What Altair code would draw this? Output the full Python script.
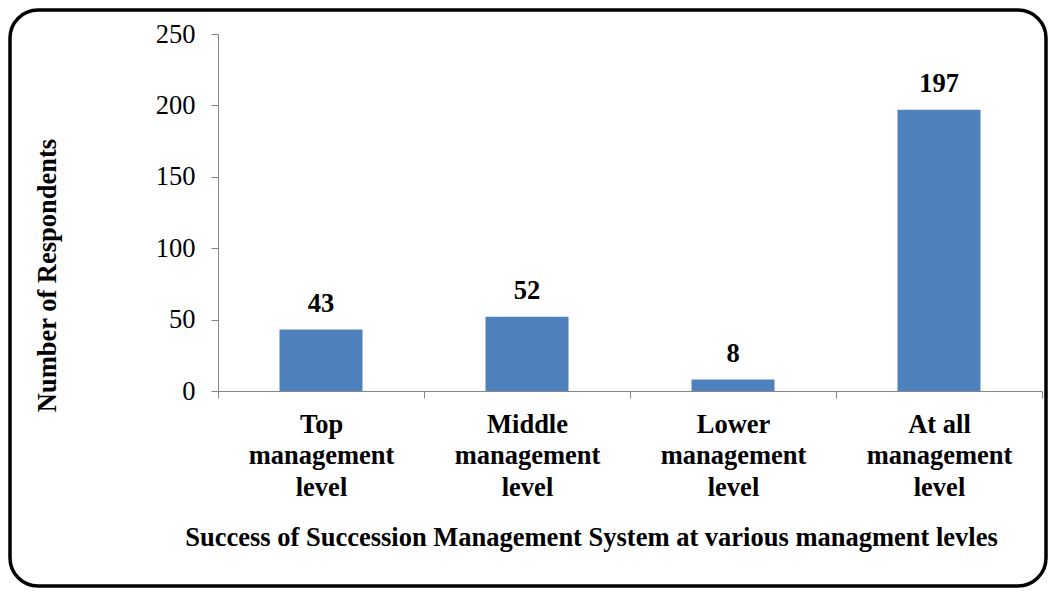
import altair as alt
import pandas as pd

categories = [
    "Top\nmanagement\nlevel",
    "Middle\nmanagement\nlevel",
    "Lower\nmanagement\nlevel",
    "At all\nmanagement\nlevel",
]
respondents = [43, 52, 8, 197]
y_ticks = [0, 50, 100, 150, 200, 250]

x_title = "Success of Succession Management System at various managment levles"
y_title = "Number of Respondents"

df = pd.DataFrame({"category": categories, "value": respondents})

FONT = "Liberation Serif"
GRAY = "#868686"
FS = 26.5

x_enc = alt.X(
    "category:N",
    sort=categories,
    scale=alt.Scale(paddingInner=0, paddingOuter=0),
    axis=alt.Axis(
        title=x_title,
        labelExpr="split(datum.label, '\\n')",
        labelAngle=0,
        labelFont=FONT,
        labelFontWeight="bold",
        labelFontSize=FS,
        labelColor="black",
        labelLineHeight=31.5,
        labelBaseline="alphabetic",
        labelPadding=34,
        tickBand="extent",
        tickSize=7,
        tickColor=GRAY,
        domainColor=GRAY,
        titleFont=FONT,
        titleFontWeight="bold",
        titleFontSize=FS,
        titleColor="black",
        titleX=373,
        titleY=154,
        titleAlign="center",
        titleBaseline="alphabetic",
    ),
)

y_enc = alt.Y(
    "value:Q",
    scale=alt.Scale(domain=[0, 250], nice=False),
    axis=alt.Axis(
        title=y_title,
        values=y_ticks,
        grid=False,
        labelFont=FONT,
        labelFontSize=FS,
        labelColor="black",
        labelPadding=16,
        tickSize=7,
        tickColor=GRAY,
        domainColor=GRAY,
        titleFont=FONT,
        titleFontWeight="bold",
        titleFontSize=FS,
        titleColor="black",
        titleAngle=270,
        titleX=-163,
        titleY=241,
        titleAlign="center",
        titleBaseline="alphabetic",
    ),
)

bars = alt.Chart(df).mark_bar(size=83, color="#4F81BD").encode(x=x_enc, y=y_enc)

labels = alt.Chart(df).mark_text(
    baseline="alphabetic",
    dy=-18,
    font=FONT,
    fontWeight="bold",
    fontSize=FS,
    color="black",
).encode(
    x=alt.X("category:N", sort=categories),
    y=alt.Y("value:Q"),
    text=alt.Text("value:Q"),
)

border = alt.Chart(alt.Data(values=[{"frame": 1}])).mark_rect(
    fill="transparent",
    stroke="black",
    strokeWidth=3.5,
    cornerRadius=28,
).encode(
    x=alt.value(-208),
    x2=alt.value(828),
    y=alt.value(-24),
    y2=alt.value(552),
)

chart = (
    alt.layer(bars, labels, border)
    .properties(
        width=824,
        height=357,
        padding={"left": 210, "top": 26, "right": 6, "bottom": 197},
        autosize="none",
        background="white",
    )
    .configure_view(stroke=None)
)

chart.save("out.html", embed_options={"renderer": "svg", "actions": False})
